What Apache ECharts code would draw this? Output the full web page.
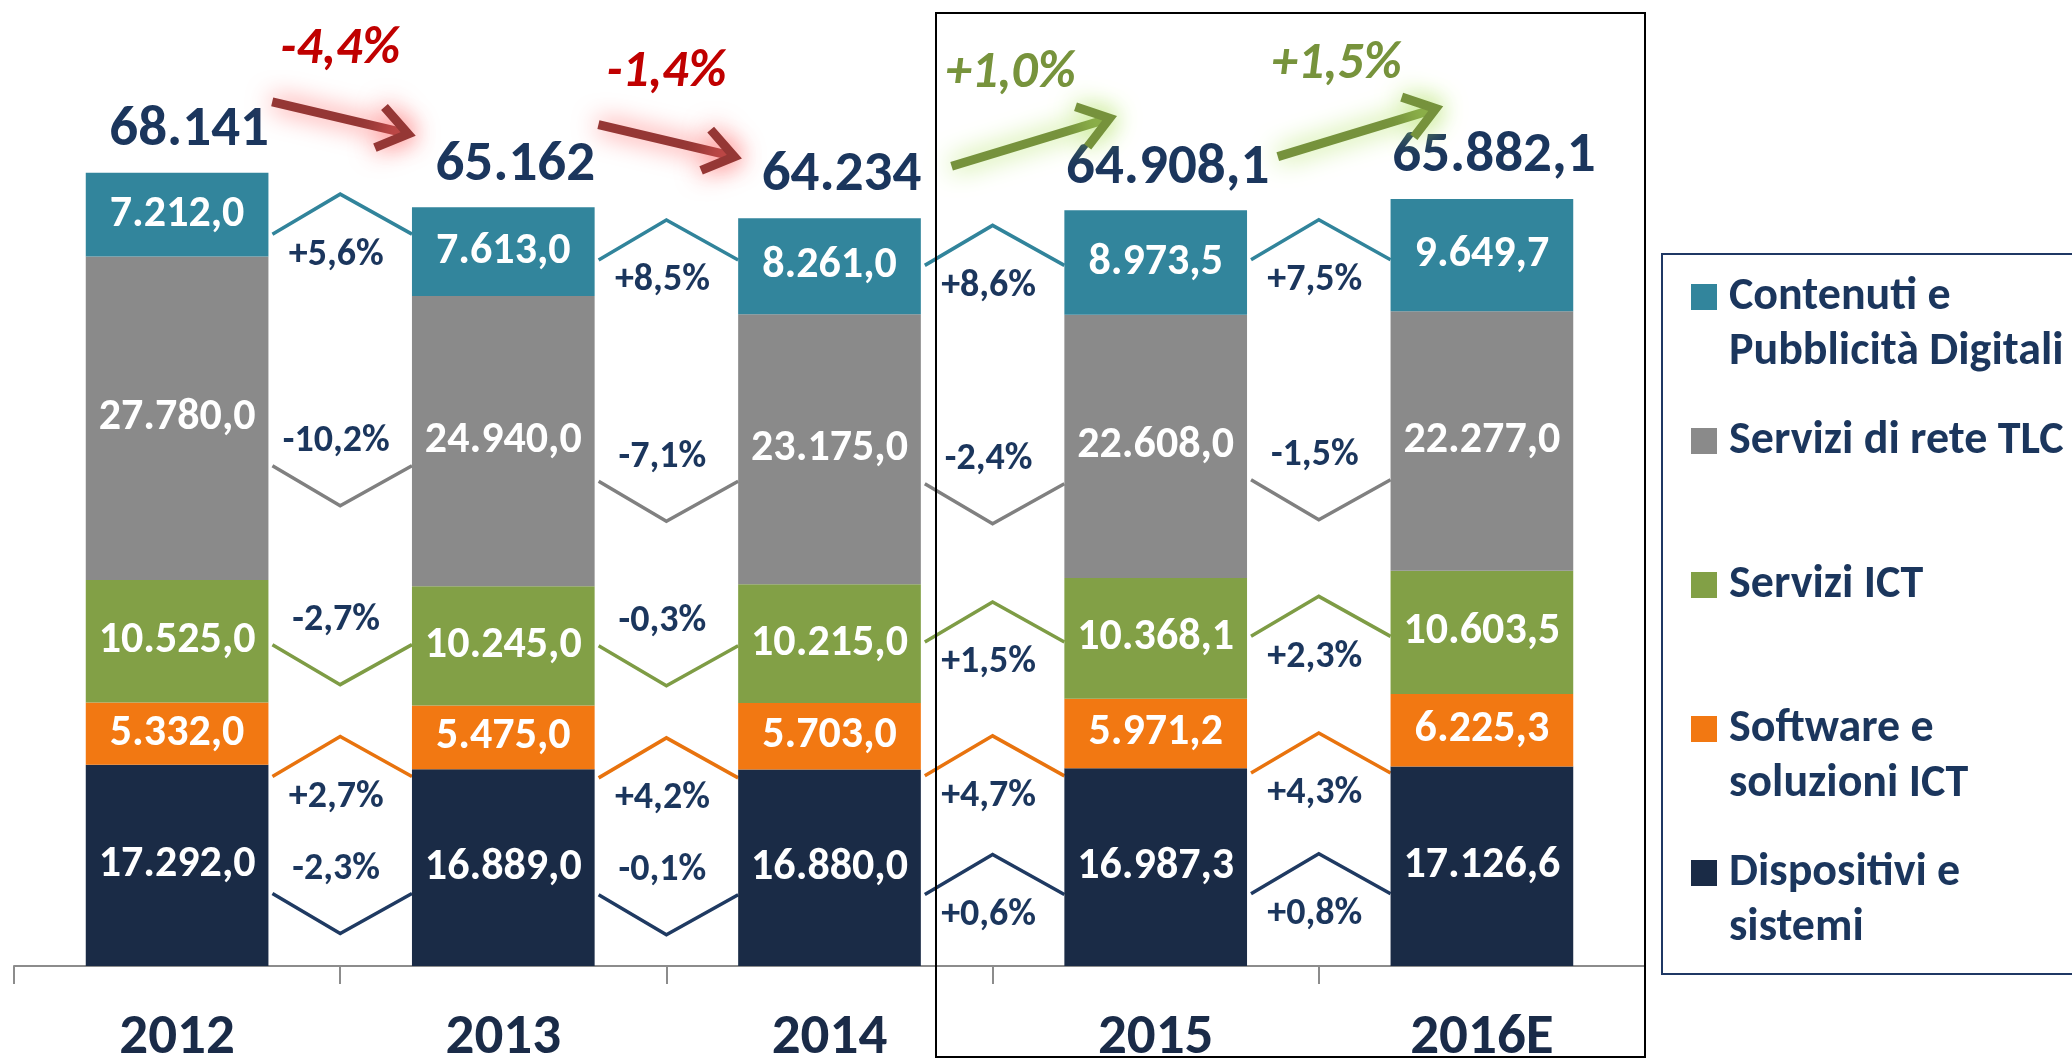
<!DOCTYPE html>
<html>
<head>
<meta charset="utf-8">
<script src="https://cdn.jsdelivr.net/npm/echarts@6/dist/echarts.min.js"></script>
<style>
  html, body { margin: 0; padding: 0; background: #fff; }
  #chart { width: 2072px; height: 1059px; }
</style>
</head>
<body>
<div id="chart"></div>
<script>
// valori in milioni di euro
const years = ['2012', '2013', '2014', '2015', '2016E'];
const dispositivi = [17292.0, 16889.0, 16880.0, 16987.3, 17126.6];
const software = [5332.0, 5475.0, 5703.0, 5971.2, 6225.3];
const serviziIct = [10525.0, 10245.0, 10215.0, 10368.1, 10603.5];
const serviziTlc = [27780.0, 24940.0, 23175.0, 22608.0, 22277.0];
const contenuti = [7212.0, 7613.0, 8261.0, 8973.5, 9649.7];
const totali = [68141, 65162, 64234, 64908.1, 65882.1];

// variazioni % anno su anno
const varDispositivi = [-2.3, -0.1, 0.6, 0.8];
const varSoftware = [2.7, 4.2, 4.7, 4.3];
const varServiziIct = [-2.7, -0.3, 1.5, 2.3];
const varServiziTlc = [-10.2, -7.1, -2.4, -1.5];
const varContenuti = [5.6, 8.5, 8.6, 7.5];
const varTotale = [-4.4, -1.4, 1.0, 1.5];

const FONT = 'Carlito, Lato, sans-serif';
const NAVY_TEXT = '#1b365d';

// strati dal basso verso l'alto
const layers = [
  { name: 'Dispositivi e\nsistemi', data: dispositivi, vars: varDispositivi, color: '#1a2b46', line: '#1f3a62', shift: 27 },
  { name: 'Software e\nsoluzioni ICT', data: software, vars: varSoftware, color: '#f27812', line: '#e8730e', shift: 41 },
  { name: 'Servizi ICT', data: serviziIct, vars: varServiziIct, color: '#82a046', line: '#7e9c45', shift: 1 },
  { name: 'Servizi di rete TLC', data: serviziTlc, vars: varServiziTlc, color: '#8a8a8a', line: '#808080', shift: 36 },
  { name: 'Contenuti e\nPubblicità Digitali', data: contenuti, vars: varContenuti, color: '#32859c', line: '#31849b', shift: 1 },
];

function fmtNum(v, dec) {
  const parts = v.toFixed(dec).split('.');
  const int = parts[0].replace(/\B(?=(\d{3})+(?!\d))/g, '.');
  return parts.length > 1 ? int + ',' + parts[1] : int;
}
function fmtPct(v) {
  return (v >= 0 ? '+' : '-') + Math.abs(v).toFixed(1).replace('.', ',') + '%';
}

// centro di ogni segmento nello stack
const mids = [];
const base = years.map(() => 0);
layers.forEach((l, li) => {
  mids[li] = l.data.map((v, i) => base[i] + v / 2);
  l.data.forEach((v, i) => { base[i] += v; });
});

const chevronData = [];
layers.forEach((l, li) => {
  for (let g = 0; g < years.length - 1; g++) {
    chevronData.push([g, (mids[li][g] + mids[li][g + 1]) / 2, li]);
  }
});
const arrowData = varTotale.map((v, g) => [g, (totali[g] + totali[g + 1]) / 2]);
const totalData = totali.map((v, i) => [i, v]);

const chart = echarts.init(document.getElementById('chart'));

const barSeries = layers.map(l => ({
  name: l.name,
  type: 'bar',
  stack: 'tot',
  barWidth: '56%',
  data: l.data,
  itemStyle: { color: l.color },
  label: {
    show: true,
    position: 'inside',
    color: '#fff',
    fontSize: 44,
    fontWeight: 'bold',
    fontFamily: FONT,
    formatter: p => fmtNum(p.value, 1),
  },
}));

chart.setOption({
  animation: false,
  backgroundColor: '#fff',
  grid: { left: 14, right: 427, top: 151, bottom: 93, containLabel: false, outerBoundsMode: 'none' },
  xAxis: {
    type: 'category',
    data: years,
    axisLine: { lineStyle: { color: '#8c8c8c', width: 2 } },
    axisTick: { show: true, length: 18, lineStyle: { color: '#8c8c8c', width: 2 } },
    axisLabel: { color: '#1a2b48', fontSize: 57, fontWeight: 'bold', fontFamily: FONT, margin: 44 },
  },
  yAxis: { type: 'value', min: 0, max: 70000, show: false, splitLine: { show: false } },
  legend: {
    data: layers.map(l => l.name).reverse(),
    orient: 'vertical',
    left: 1662,
    top: 254,
    padding: [16, 24, 18, 29],
    itemWidth: 26,
    itemHeight: 110,
    itemGap: 34,
    symbolKeepAspect: false,
    icon: 'path://M0,0h0.01v0.01h-0.01z M0,14h26v26h-26z M25.99,109.99h0.01v0.01h-0.01z',
    borderColor: '#1f3864',
    borderWidth: 2,
    selectedMode: false,
    formatter: name => (name.indexOf('\n') < 0 ? name + '\n ' : name),
    textStyle: {
      fontSize: 46, fontWeight: 'bold', color: NAVY_TEXT, lineHeight: 55,
      fontFamily: FONT, padding: [0, 0, 0, 7],
    },
  },
  graphic: [{
    type: 'rect',
    shape: { x: 936, y: 13, width: 709, height: 1044 },
    style: { fill: 'none', stroke: '#000', lineWidth: 2 },
    z: 100,
  }],
  series: barSeries.concat([
    {
      // frecce di variazione per segmento
      type: 'custom',
      name: 'variazioni',
      clip: false,
      silent: true,
      data: chevronData,
      encode: { x: 0, y: 1 },
      renderItem: (params, api) => {
        const g = api.value(0), li = api.value(2);
        const pct = layers[li].vars[g];
        const a = api.coord([g, api.value(1)]);
        const b = api.coord([g + 1, api.value(1)]);
        const band = b[0] - a[0];
        const cx = (a[0] + b[0]) / 2;
        const half = band * 0.22;
        const up = pct >= 0;
        const y0 = a[1] + layers[li].shift;
        const apex = up ? y0 - 40 : y0 + 40;
        return {
          type: 'group',
          children: [
            {
              type: 'polyline',
              shape: { points: [[cx - half + 4, y0], [cx, apex], [cx + half, y0]] },
              style: { fill: 'none', stroke: layers[li].line, lineWidth: 3.5 },
            },
            {
              type: 'text',
              x: cx - 4,
              y: up ? y0 + 21 : y0 - 24,
              style: {
                text: fmtPct(pct), fill: NAVY_TEXT, fontSize: 38, fontWeight: 'bold',
                fontFamily: FONT, align: 'center', verticalAlign: 'middle',
              },
            },
          ],
        };
      },
    },
    {
      // totali sopra le barre
      type: 'custom',
      name: 'totali',
      clip: false,
      silent: true,
      data: totalData,
      encode: { x: 0, y: 1 },
      renderItem: (params, api) => {
        const p = api.coord([api.value(0), api.value(1)]);
        const v = api.value(1);
        return {
          type: 'text',
          x: p[0] + 12,
          y: p[1] - 42,
          style: {
            text: fmtNum(v, Number.isInteger(v) ? 0 : 1), fill: NAVY_TEXT, fontSize: 57,
            fontWeight: 'bold', fontFamily: FONT, align: 'center', verticalAlign: 'middle',
          },
        };
      },
    },
    {
      // frecce variazione totale
      type: 'custom',
      name: 'totale var',
      clip: false,
      silent: true,
      data: arrowData,
      encode: { x: 0, y: 1 },
      renderItem: (params, api) => {
        const g = api.value(0);
        const pct = varTotale[g];
        const up = pct >= 0;
        const a = api.coord([g, api.value(1)]);
        const b = api.coord([g + 1, api.value(1)]);
        const cx = (a[0] + b[0]) / 2 + (up ? 38 : 0);
        const cy = a[1] - 72;
        const hx = up ? 79 : 68, hy = up ? -24 : 16;
        const start = [cx - hx, cy - hy], tip = [cx + hx, cy + hy];
        const ang = Math.atan2(tip[1] - start[1], tip[0] - start[0]);
        const arm = 36, spread = 0.62;
        const arm1 = [tip[0] - arm * Math.cos(ang - spread), tip[1] - arm * Math.sin(ang - spread)];
        const arm2 = [tip[0] - arm * Math.cos(ang + spread), tip[1] - arm * Math.sin(ang + spread)];
        const col = up ? '#76923c' : '#953735';
        const glow = up ? 'rgba(175,225,95,1)' : 'rgba(255,100,100,1)';
        const lineStyle = { fill: 'none', stroke: col, lineWidth: 9, shadowBlur: 26, shadowColor: glow, lineJoin: 'miter' };
        return {
          type: 'group',
          children: [
            { type: 'polyline', shape: { points: [start, tip] }, style: lineStyle },
            { type: 'polyline', shape: { points: [arm1, tip, arm2] }, style: lineStyle },
            {
              type: 'text',
              x: cx - (up ? 20 : 0),
              y: cy - 68,
              style: {
                text: fmtPct(pct), fill: up ? '#77933c' : '#c00000', fontSize: 52,
                fontWeight: 'bold', fontStyle: 'italic', fontFamily: FONT,
                align: 'center', verticalAlign: 'middle',
              },
            },
          ],
        };
      },
    },
  ]),
});
</script>
</body>
</html>
